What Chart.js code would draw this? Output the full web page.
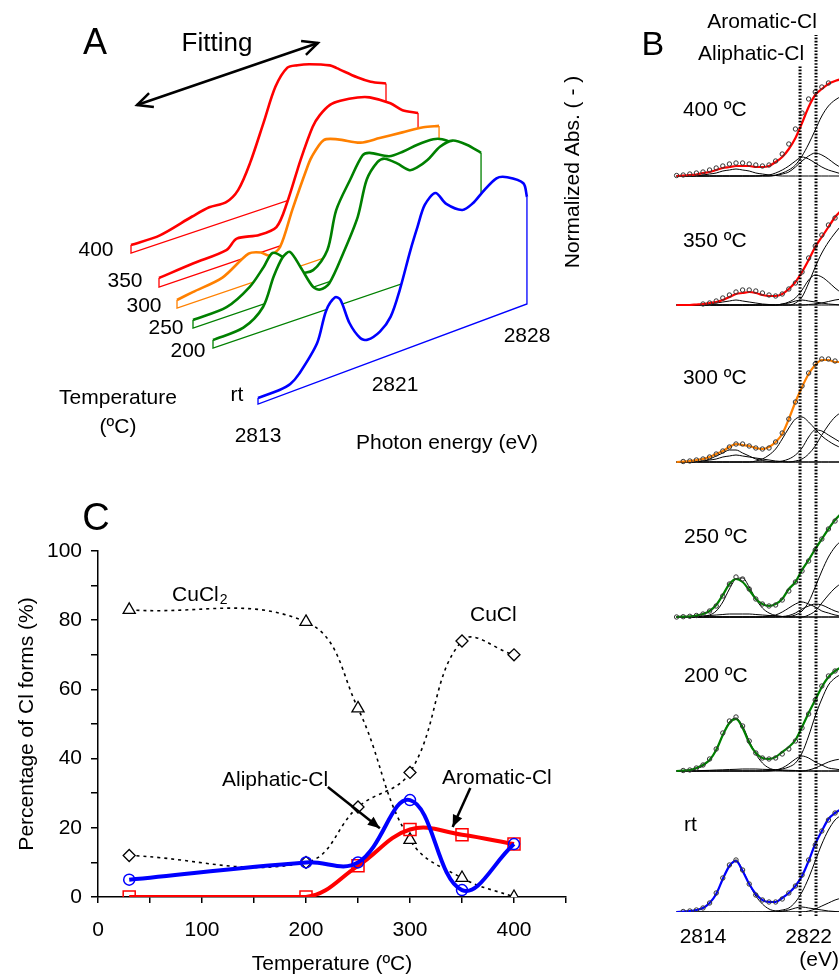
<!DOCTYPE html>
<html>
<head>
<meta charset="utf-8">
<script src="https://cdn.jsdelivr.net/npm/chart.js@4.4.0/dist/chart.umd.min.js"></script>
<style>
html, body { margin: 0; padding: 0; background: #fff; }
#wrap { position: relative; width: 839px; height: 977px; overflow: hidden; }
canvas { position: absolute; }
</style>
</head>
<body>
<div id="wrap">
  <canvas id="chartA" width="560" height="480" style="left:0;top:0"></canvas>
  <canvas id="chartC" width="581" height="497" style="left:0;top:480px"></canvas>
  <canvas id="chartB" width="279" height="977" style="left:560px;top:0"></canvas>
</div>
<script>
Chart.defaults.font.family = '"Liberation Sans", Arial, sans-serif';
Chart.defaults.color = '#000';

const RED = '#ff0000', ORANGE = '#ff8000', GREEN = '#008000', BLUE = '#0000ff';

// ---------- panel C : percentage of Cl forms ----------
const temps = [30, 200, 250, 300, 350, 400];
const cucl2 = [83, 79.5, 54.5, 16.5, 5.5, 0];
const cucl = [12, 10, 26, 36, 74, 70];
const aliphatic = [5, 10, 10, 28, 2, 15.3];
const aromatic = [0, 0, 9, 19.5, 18, 15.3];
const xTickLabels = [0, 100, 200, 300, 400];
const yTickLabels = [0, 20, 40, 60, 80, 100];

// ---------- panel A : spectra (energy eV, height) ----------
const eRt = [2813, 2814.2, 2814.8, 2815.3, 2816.3, 2816.8, 2817.3, 2817.6, 2818.1, 2818.7, 2819.1, 2819.8, 2820.4, 2820.9, 2821.5, 2821.9, 2822.3, 2822.9, 2823.5, 2824.4, 2825, 2825.5, 2826.3, 2826.9, 2827.8, 2828];
const hRt = [6, 6, 8, 15, 39, 68, 78, 73.5, 47, 28, 23.5, 27, 38, 61, 97, 118, 137, 145, 130, 118, 121, 128, 137, 134, 122, 107];
const e200 = [2813, 2814.7, 2815.8, 2816.4, 2816.9, 2817.3, 2817.9, 2818.6, 2819, 2819.5, 2820.3, 2821.1, 2821.6, 2822.2, 2822.6, 2823.3, 2824, 2824.4, 2825, 2825.7, 2826.4, 2827.2, 2828];
const h200 = [8, 10, 24, 51, 67, 70, 51, 27, 22, 25, 51, 82, 116, 130, 131, 122, 111, 111, 115, 124, 126, 117, 104];
const e250 = [2813, 2814.9, 2816.2, 2817, 2817.5, 2818.1, 2819, 2819.8, 2820.6, 2821.1, 2821.9, 2822.6, 2823, 2824.1, 2824.9, 2825.7, 2826.6, 2827.1, 2828];
const h250 = [8, 9.4, 21.6, 37, 48, 40, 20, 17, 32, 69, 95, 115, 115, 105, 105, 107, 107, 104, 93];
const e300 = [2813, 2813.9, 2815.6, 2817.1, 2817.8, 2818.3, 2818.9, 2819.6, 2820.4, 2820.7, 2821.4, 2822.2, 2823.5, 2824.6, 2825.9, 2827.1, 2828];
const h300 = [8, 10.6, 15, 30, 27, 21, 26, 59, 94, 105, 118, 114, 103, 101, 99, 97, 93];
const e350 = [2813, 2815, 2816.9, 2817.5, 2818.8, 2819.8, 2820.4, 2821.2, 2821.9, 2822.3, 2822.9, 2823.5, 2824.5, 2825.2, 2826.4, 2827.1, 2828];
const h350 = [9, 12, 14, 22, 18, 20, 40, 79, 108, 117, 124, 124.5, 122, 118, 105, 94, 86];
const e400 = [2813, 2814.7, 2816.6, 2817.6, 2818.6, 2819.3, 2820, 2820.8, 2821.5, 2822.2, 2822.8, 2823.5, 2824.7, 2825.1, 2826.3, 2827.1, 2828];
const h400 = [8, 8, 16, 19.5, 19, 27, 50, 86, 118, 133, 132, 129, 121, 116, 100, 91, 84];

// 3-D projection of panel A (front rt to back 400)
const aX0 = [258, 213, 193, 177, 159, 131];
const aY0 = [404, 348, 328, 308, 287, 253];
const aK = [17.93, 17.87, 17.67, 17.47, 17.27, 17.0];
const aS = [-0.372, -0.34, -0.34, -0.34, -0.34, -0.335];

// ---------- panel B : fitted spectra, energy grid ----------
const bEnergy = [2812, 2812.5, 2813, 2813.5, 2814, 2814.5, 2815, 2815.5, 2816, 2816.5, 2817, 2817.5, 2818, 2818.5, 2819, 2819.5, 2820, 2820.5, 2821, 2821.5, 2822, 2822.5, 2823, 2823.5, 2824, 2824.5];

const fit400 = [0, 0.5, 1, 1.5, 3, 4, 6, 8, 9, 10, 10, 10, 9, 9, 10, 14, 19, 27, 38, 53, 69, 81, 87, 92, 95, 97];
const obs400 = [0.5, 1, 2, 3, 4, 6, 8, 10, 12, 13, 13, 12, 11, 10, 11, 15, 22, 32, 47, 63, 77, 84, 89, 93, null, null];
const pre400 = [0, 0, 0, 0.5, 1, 2, 3, 5, 6, 7, 6, 5, 3, 2, 1, 0.5, 0, 0, 0, 0, 0, 0, 0, 0, 0, 0];
const ali400 = [0, 0, 0, 0, 0, 0, 0, 0, 0, 0, 0, 0, 0, 0.5, 1, 3, 6, 10, 15, 19, 17, 13, 9, 6, 4, 2];
const aro400 = [0, 0, 0, 0, 0, 0, 0, 0, 0, 0, 0, 0, 0, 0, 0, 0.5, 2, 4, 9, 15, 20, 23, 21, 17, 12, 8];
const edg400 = [0, 0, 0, 0, 0, 0, 0, 0, 0, 0, 0, 0, 0, 0, 0, 1, 3, 6, 11, 20, 32, 46, 60, 70, 76, 80];

const fit350 = [0, 0, 0, 0.5, 1, 2, 3, 5, 8, 11, 12, 13, 12, 10, 9, 9, 11, 16, 23, 33, 45, 58, 68, 78, 88, 95];
const obs350 = [null, null, null, null, 1, 2, 4, 7, 10, 13, 15, 15, 14, 12, 10, 9, 11, 16, 22, 33, 47, 59, 70, 80, 87, null];
const pre350 = [0, 0, 0, 0, 0.5, 1, 2, 3, 4, 5, 4, 3, 2, 1, 0.5, 0, 0, 0, 0, 0, 0, 0, 0, 0, 0, 0];
const ali350 = [0, 0, 0, 0, 0, 0, 0, 0, 0, 0, 0, 0, 0, 0, 0, 0, 1, 2, 4, 5, 4, 3, 2, 1, 0.5, 0];
const aro350 = [0, 0, 0, 0, 0, 0, 0, 0, 0, 0, 0, 0, 0, 0, 0, 0, 1, 3, 7, 15, 25, 30, 28, 23, 17, 12];
const edg350 = [0, 0, 0, 0, 0, 0, 0, 0, 0, 0, 0, 0, 0, 0, 0, 0, 0, 0, 2, 8, 22, 38, 52, 63, 72, 80];
const bro350 = [0, 0, 0, 0, 0, 0, 0, 0, 0, 0, 0, 0, 0, 0, 0, 0, 0, 0, 0, 0, 0.5, 1, 2, 3.5, 5, 6];

const fit300 = [0, 0.5, 1, 2, 3, 5, 8, 11, 15, 18, 17, 16, 14, 13, 15, 20, 28, 43, 60, 75, 88, 97, 102, 102, 100, 100];
const obs300 = [null, 0.5, 1, 2, 3, 5, 8, 11, 15, 18, 18, 16, 14, 13, 14, 20, 29, 43, 60, 76, 89, 98, 103, 103, 101, null];
const pr1300 = [0, 0, 0, 0.5, 1, 3, 6, 9, 12, 12, 9, 6, 3, 1.5, 0.5, 0, 0, 0, 0, 0, 0, 0, 0, 0, 0, 0];
const pr2300 = [0, 0, 0, 0.5, 1, 2, 3, 5, 6, 7, 6, 5, 4, 3, 2, 1, 0.5, 0, 0, 0, 0, 0, 0, 0, 0, 0];
const ali300 = [0, 0, 0, 0, 0, 0, 0, 0, 0, 0, 0, 0, 1, 3, 7, 13, 23, 34, 43, 45, 40, 33, 26, 21, 17, 14];
const aro300 = [0, 0, 0, 0, 0, 0, 0, 0, 0, 0, 0, 0, 0, 0, 0, 0, 1, 3, 7, 14, 25, 32, 31, 27, 23, 19];
const edg300 = [0, 0, 0, 0, 0, 0, 0, 0, 0, 0, 0, 0, 0, 0, 0, 0, 0, 0, 1, 3, 8, 16, 27, 37, 45, 50];

const fit250 = [0, 0.3, 0.7, 1.5, 3, 6, 12, 22, 33, 38, 35, 27, 18, 13, 11, 13, 18, 28, 35, 47, 57, 68, 78, 88, 97, 104];
const obs250 = [0, 0.3, 0.7, 1.5, 3, 6, 11, 21, 33, 40, 38, 28, 18, 13, 11, 12, 17, 26, 35, 46, 56, 67, 78, 88, 96, null];
const pre250 = [0, 0, 0, 0, 0.5, 2, 6, 15, 28, 38, 39, 30, 18, 9, 4, 1.5, 0.5, 0, 0, 0, 0, 0, 0, 0, 0, 0];
const low250 = [0, 0, 0, 0.5, 1, 1.5, 2, 2.5, 3, 3, 3, 3, 2.5, 2, 1.5, 1, 0.5, 0, 0, 0, 0, 0, 0, 0, 0, 0];
const ali250 = [0, 0, 0, 0, 0, 0, 0, 0, 0, 0, 0, 0, 0, 0, 1, 2, 5, 9, 13, 15, 13, 10, 6, 4, 2, 1];
const aro250 = [0, 0, 0, 0, 0, 0, 0, 0, 0, 0, 0, 0, 0, 0, 0, 0, 0.5, 1.5, 4, 8, 11, 13, 12, 9, 6, 4];
const edg250 = [0, 0, 0, 0, 0, 0, 0, 0, 0, 0, 0, 0, 0, 0, 0, 0, 0, 0.5, 2, 6, 15, 30, 46, 60, 70, 77];
const sec250 = [0, 0, 0, 0, 0, 0, 0, 0, 0, 0, 0, 0, 0, 0, 0, 0, 0, 0, 0, 0, 2, 6, 14, 22, 29, 34];

const fit200 = [0, 0.5, 1, 3, 6, 11, 21, 36, 48, 52, 43, 28, 18, 13, 12, 14, 19, 24, 31, 44, 58, 71, 84, 94, 100, 104];
const obs200 = [null, 0.5, 1, 3, 6, 12, 22, 38, 50, 54, 45, 30, 18, 13, 12, 13, 17, 22, 30, 43, 57, 71, 85, 95, 100, null];
const pre200 = [0, 0.5, 1, 2.5, 5, 11, 21, 36, 49, 53, 45, 30, 17, 8, 3, 1, 0.3, 0, 0, 0, 0, 0, 0, 0, 0, 0];
const low200 = [0, 0, 0, 0, 0.5, 0.7, 1, 1.2, 1.5, 1.7, 2, 2, 2, 1.7, 1.5, 1.2, 1, 0.7, 0.5, 0, 0, 0, 0, 0, 0, 0];
const ali200 = [0, 0, 0, 0, 0, 0, 0, 0, 0, 0, 0, 0, 0, 0, 0, 1, 3, 7, 12, 15, 13, 9, 6, 3, 2, 1];
const aro200 = [0, 0, 0, 0, 0, 0, 0, 0, 0, 0, 0, 0, 0, 0, 0, 0, 0, 0, 0, 0, 1, 3, 6, 9, 11, 12];
const edg200 = [0, 0, 0, 0, 0, 0, 0, 0, 0, 0, 0, 0, 0, 0, 0.5, 1, 2, 4, 8, 18, 35, 55, 72, 86, 93, 97];

const fitRt = [0, 0.5, 1, 2, 4, 9, 18, 33, 46, 51, 41, 28, 18, 12, 10, 10, 14, 19, 26, 36, 51, 68, 81, 93, 99, 103];
const obsRt = [null, 0.5, 1, 2, 4, 9, 19, 34, 47, 52, 42, 28, 17, 12, 10, 10, 13, 19, 26, 37, 52, 67, 81, 92, 99, null];
const preRt = [0, 0.5, 1, 2, 4, 9, 18, 33, 46, 52, 42, 28, 16, 8, 3, 1, 0.3, 0, 0, 0, 0, 0, 0, 0, 0, 0];
const aliRt = [0, 0, 0, 0, 0, 0, 0, 0, 0, 0, 0, 0, 0, 0, 0, 0, 1, 2, 4, 5, 4, 3, 2, 1, 0.5, 0];
const edgRt = [0, 0, 0, 0, 0, 0, 0, 0, 0, 0, 0, 0, 0, 0, 0.5, 1, 2, 4, 10, 20, 34, 51, 68, 82, 92, 97];
const risRt = [0, 0, 0, 0, 0, 0, 0, 0, 0, 0, 0, 0, 0, 0, 0, 0, 0, 0, 0, 0, 1, 3, 6, 9, 12, 14];

const bOffsets = [736, 607, 450, 295, 141, 0]; // 400, 350, 300, 250, 200, rt
const aliphaticEdge = 2821.35, aromaticEdge = 2822.56;

// ---------- text / arrow plugin ----------
const notes = {
  id: 'notes',
  afterDraw(chart, args, o) {
    const ctx = chart.ctx, sx = chart.scales.x, sy = chart.scales.y;
    const fam = '"Liberation Sans", Arial, sans-serif';
    ctx.save();
    ctx.fillStyle = '#000';
    ctx.strokeStyle = '#000';
    (o.texts || []).forEach(t => {
      ctx.save();
      ctx.translate(sx.getPixelForValue(t.x), sy.getPixelForValue(t.y));
      if (t.rot) ctx.rotate(t.rot);
      ctx.font = (t.size || 21) + 'px ' + fam;
      ctx.textAlign = t.align || 'center';
      ctx.textBaseline = 'middle';
      ctx.fillText(t.text, 0, 0);
      if (t.sub) {
        const w = ctx.measureText(t.text).width;
        ctx.font = '14px ' + fam;
        ctx.textAlign = 'left';
        ctx.fillText(t.sub, w + 1, 5);
      }
      ctx.restore();
    });
    (o.arrows || []).forEach(a => {
      const x1 = sx.getPixelForValue(a.x1), y1 = sy.getPixelForValue(a.y1);
      const x2 = sx.getPixelForValue(a.x2), y2 = sy.getPixelForValue(a.y2);
      ctx.lineWidth = a.w || 2.5;
      ctx.beginPath(); ctx.moveTo(x1, y1); ctx.lineTo(x2, y2); ctx.stroke();
      const heads = a.both ? [[x2, y2, x1, y1], [x1, y1, x2, y2]] : [[x2, y2, x1, y1]];
      heads.forEach(([hx, hy, fx, fy]) => {
        const ang = Math.atan2(hy - fy, hx - fx), L = a.head || 12, W = a.spread || 0.42;
        const p1 = [hx - L * Math.cos(ang - W), hy - L * Math.sin(ang - W)];
        const p2 = [hx - L * Math.cos(ang + W), hy - L * Math.sin(ang + W)];
        ctx.beginPath();
        if (a.open) {
          ctx.moveTo(p1[0], p1[1]); ctx.lineTo(hx, hy); ctx.lineTo(p2[0], p2[1]); ctx.stroke();
        } else {
          ctx.moveTo(hx, hy); ctx.lineTo(p1[0], p1[1]); ctx.lineTo(p2[0], p2[1]); ctx.closePath(); ctx.fill();
        }
      });
    });
    ctx.restore();
  }
};

const base = { responsive: false, animation: false, devicePixelRatio: 1 };

// ---------- chart A ----------
const aSpectra = [[eRt, hRt, BLUE], [e200, h200, GREEN], [e250, h250, GREEN], [e300, h300, ORANGE], [e350, h350, RED], [e400, h400, RED]];
const aSets = [];
aSpectra.forEach(([E, H, col], i) => {
  const x0 = aX0[i], y0 = aY0[i], k = aK[i], s = aS[i];
  const pts = E.map((e, j) => {
    const x = x0 + (e - 2813) * k;
    return { x: x, y: y0 + s * (x - x0) - H[j] };
  });
  const xe = x0 + (E[E.length - 1] - 2813) * k, ye = y0 + s * (xe - x0);
  const n = aSets.length;
  // frame: start edge, baseline, end edge
  aSets.push({ data: [pts[0], { x: x0, y: y0 }, { x: xe, y: ye }, pts[pts.length - 1]],
    showLine: true, borderColor: col, borderWidth: 1.3, pointRadius: 0, tension: 0, order: 3 * i });
  // spectrum, its face filled white down to the baseline
  aSets.push({ data: pts, showLine: true, borderColor: col, borderWidth: 2.6, pointRadius: 0, tension: 0.3,
    backgroundColor: '#fff', fill: n + 2, order: 3 * i + 1 });
  aSets.push({ data: [{ x: x0, y: y0 }, { x: xe, y: ye }], showLine: true, borderWidth: 0, pointRadius: 0, order: 3 * i + 2 });
});

new Chart(document.getElementById('chartA'), {
  type: 'scatter',
  data: { datasets: aSets },
  options: Object.assign({}, base, {
    layout: { padding: 0, autoPadding: false },
    scales: {
      x: { type: 'linear', display: false, min: 0, max: 560 },
      y: { type: 'linear', display: false, min: 0, max: 480, reverse: true }
    },
    plugins: {
      legend: { display: false }, tooltip: { enabled: false },
      notes: {
        texts: [
          { text: 'A', x: 95, y: 44, size: 36 },
          { text: 'Fitting', x: 217, y: 44, size: 26 },
          { text: '400', x: 96, y: 250 }, { text: '350', x: 125, y: 281 }, { text: '300', x: 144, y: 306 },
          { text: '250', x: 166, y: 328 }, { text: '200', x: 188, y: 351 }, { text: 'rt', x: 237, y: 395 },
          { text: 'Temperature', x: 118, y: 398 }, { text: '(ºC)', x: 118, y: 427 },
          { text: '2813', x: 258, y: 436 }, { text: '2821', x: 395, y: 385 }, { text: '2828', x: 527, y: 336 },
          { text: 'Photon energy (eV)', x: 447, y: 443 }
        ],
        arrows: [{ x1: 137, y1: 105, x2: 318, y2: 43, both: true, open: true, head: 17, spread: 0.45, w: 2.5 }]
      }
    }
  }),
  plugins: [notes]
});

// ---------- chart B ----------
const bPanels = [
  { color: RED, fit: fit400, obs: obs400, parts: [pre400, ali400, aro400, edg400] },
  { color: RED, fit: fit350, obs: obs350, parts: [pre350, ali350, aro350, edg350, bro350] },
  { color: ORANGE, fit: fit300, obs: obs300, parts: [pr1300, pr2300, ali300, aro300, edg300] },
  { color: GREEN, fit: fit250, obs: obs250, parts: [pre250, low250, ali250, aro250, edg250, sec250] },
  { color: GREEN, fit: fit200, obs: obs200, parts: [pre200, low200, ali200, aro200, edg200] },
  { color: BLUE, fit: fitRt, obs: obsRt, parts: [preRt, aliRt, edgRt, risRt] }
];
function toPts(vals, off) {
  return bEnergy.map((e, i) => vals[i] == null ? null : { x: e, y: off + vals[i] }).filter(p => p);
}
const bSets = [];
bPanels.forEach((p, i) => {
  const off = bOffsets[i];
  p.parts.forEach(v => bSets.push({ data: toPts(v, off), showLine: true, borderColor: '#000', borderWidth: 1,
    pointRadius: 0, cubicInterpolationMode: 'monotone', order: 3 }));
  bSets.push({ data: toPts(p.fit, off), showLine: true, borderColor: p.color, borderWidth: 2.2,
    pointRadius: 0, cubicInterpolationMode: 'monotone', order: 2 });
  bSets.push({ data: toPts(p.obs, off), showLine: false, pointRadius: 2.2, pointBorderWidth: 1,
    pointBorderColor: '#333', pointBackgroundColor: 'rgba(0,0,0,0)', order: 1 });
});
[[aliphaticEdge, 847], [aromaticEdge, 877]].forEach(([e, top]) => bSets.push({
  data: [{ x: e, y: -4 }, { x: e, y: top }], showLine: true, borderColor: '#000', borderWidth: 3,
  borderDash: [1.6, 1.6], pointRadius: 0, clip: false, order: 0 }));

new Chart(document.getElementById('chartB'), {
  type: 'scatter',
  data: { datasets: bSets },
  options: Object.assign({}, base, {
    layout: { padding: 0, autoPadding: false },
    scales: {
      x: {
        type: 'linear', min: 2803.17, max: 2824.3,
        grid: { display: false, drawTicks: true, tickLength: 13 }, border: { display: false },
        afterBuildTicks: s => { s.ticks = [2814, 2822].map(v => ({ value: v })); },
        afterFit: s => { s.height = 65; },
        ticks: { padding: 0, font: { size: 21 }, maxRotation: 0, autoSkip: false, callback: v => String(v) },
        title: { display: true, text: '(eV)', align: 'end', font: { size: 21 }, padding: { top: 0, bottom: 4 } }
      },
      y: { type: 'linear', display: false, min: 0, max: 912 }
    },
    plugins: {
      legend: { display: false }, tooltip: { enabled: false },
      notes: {
        texts: [
          { text: 'B', x: 2810.21, y: 866, size: 34 },
          { text: 'Aromatic-Cl', x: 2818.47, y: 890 },
          { text: 'Aliphatic-Cl', x: 2817.64, y: 858 },
          { text: 'Normalized Abs. ( - )', x: 2804.15, y: 740, rot: -Math.PI / 2 },
          { text: '400 ºC', x: 2812.48, y: 802, align: 'left' },
          { text: '350 ºC', x: 2812.48, y: 671, align: 'left' },
          { text: '300 ºC', x: 2812.48, y: 534, align: 'left' },
          { text: '250 ºC', x: 2812.56, y: 375, align: 'left' },
          { text: '200 ºC', x: 2812.56, y: 236, align: 'left' },
          { text: 'rt', x: 2812.56, y: 87, align: 'left' }
        ]
      }
    }
  }),
  plugins: [notes]
});

// ---------- chart C ----------
const pairs = vals => temps.map((t, i) => ({ x: t, y: vals[i] }));
new Chart(document.getElementById('chartC'), {
  type: 'scatter',
  data: {
    datasets: [
      { label: 'Aliphatic-Cl', data: pairs(aliphatic), showLine: true, borderColor: BLUE, borderWidth: 4, tension: 0.4,
        pointStyle: 'circle', pointRadius: 5.5, pointBorderColor: BLUE, pointBorderWidth: 1.5,
        pointBackgroundColor: 'rgba(0,0,0,0)', order: 0 },
      { label: 'Aromatic-Cl', data: pairs(aromatic), showLine: true, borderColor: RED, borderWidth: 4, tension: 0.4,
        pointStyle: 'rect', pointRadius: 8.5, pointBorderColor: RED, pointBorderWidth: 1.5,
        pointBackgroundColor: 'rgba(0,0,0,0)', order: 1 },
      { label: 'CuCl', data: pairs(cucl), showLine: true, borderColor: '#000', borderWidth: 1.6, borderDash: [3, 4], tension: 0.4,
        pointStyle: 'rectRot', pointRadius: 6, pointBorderColor: '#000', pointBorderWidth: 1.3,
        pointBackgroundColor: '#fff', order: 2 },
      { label: 'CuCl2', data: pairs(cucl2), showLine: true, borderColor: '#000', borderWidth: 1.6, borderDash: [3, 4], tension: 0.4,
        pointStyle: 'triangle', pointRadius: 7, pointBorderColor: '#000', pointBorderWidth: 1.3,
        pointBackgroundColor: '#fff', order: 3 }
    ]
  },
  options: Object.assign({}, base, {
    layout: { padding: { top: 71, right: 0, left: 0, bottom: 0 }, autoPadding: false },
    scales: {
      x: {
        type: 'linear', min: 0, max: 450,
        border: { color: '#000', width: 1.5 },
        grid: { drawOnChartArea: false, drawTicks: true, tickLength: 6, color: '#000', lineWidth: 1.5 },
        ticks: { stepSize: 50, autoSkip: false, maxRotation: 0, padding: 15, font: { size: 21 },
          callback: v => xTickLabels.includes(v) ? String(v) : '' },
        title: { display: true, text: 'Temperature (ºC)', font: { size: 21 }, padding: { top: 0, bottom: 0 } },
        afterFit: s => { s.height = 80; }
      },
      y: {
        type: 'linear', min: 0, max: 100,
        border: { color: '#000', width: 1.5 },
        grid: { drawOnChartArea: false, drawTicks: true, tickLength: 7, color: '#000', lineWidth: 1.5 },
        ticks: { stepSize: 10, autoSkip: false, padding: 9, font: { size: 21 },
          callback: v => yTickLabels.includes(v) ? String(v) : '' },
        title: { display: true, text: 'Percentage of Cl forms (%)', font: { size: 21 }, padding: { top: 15, bottom: 4 } },
        afterFit: s => { s.width = 98; }
      }
    },
    plugins: {
      legend: { display: false }, tooltip: { enabled: false },
      notes: {
        texts: [
          { text: 'C', x: -1.9, y: 109, size: 38 },
          { text: 'CuCl', sub: '2', x: 71.2, y: 87.3, align: 'left' },
          { text: 'CuCl', x: 357.7, y: 81.5, align: 'left' },
          { text: 'Aliphatic-Cl', x: 119.2, y: 33.8, align: 'left' },
          { text: 'Aromatic-Cl', x: 330.8, y: 34.4, align: 'left' }
        ],
        arrows: [
          { x1: 221, y1: 31.8, x2: 271, y2: 19.9, head: 13, spread: 0.4, w: 2.5 },
          { x1: 358, y1: 31.5, x2: 341, y2: 20.2, head: 13, spread: 0.4, w: 2.5 }
        ]
      }
    }
  }),
  plugins: [notes]
});
</script>
</body>
</html>
